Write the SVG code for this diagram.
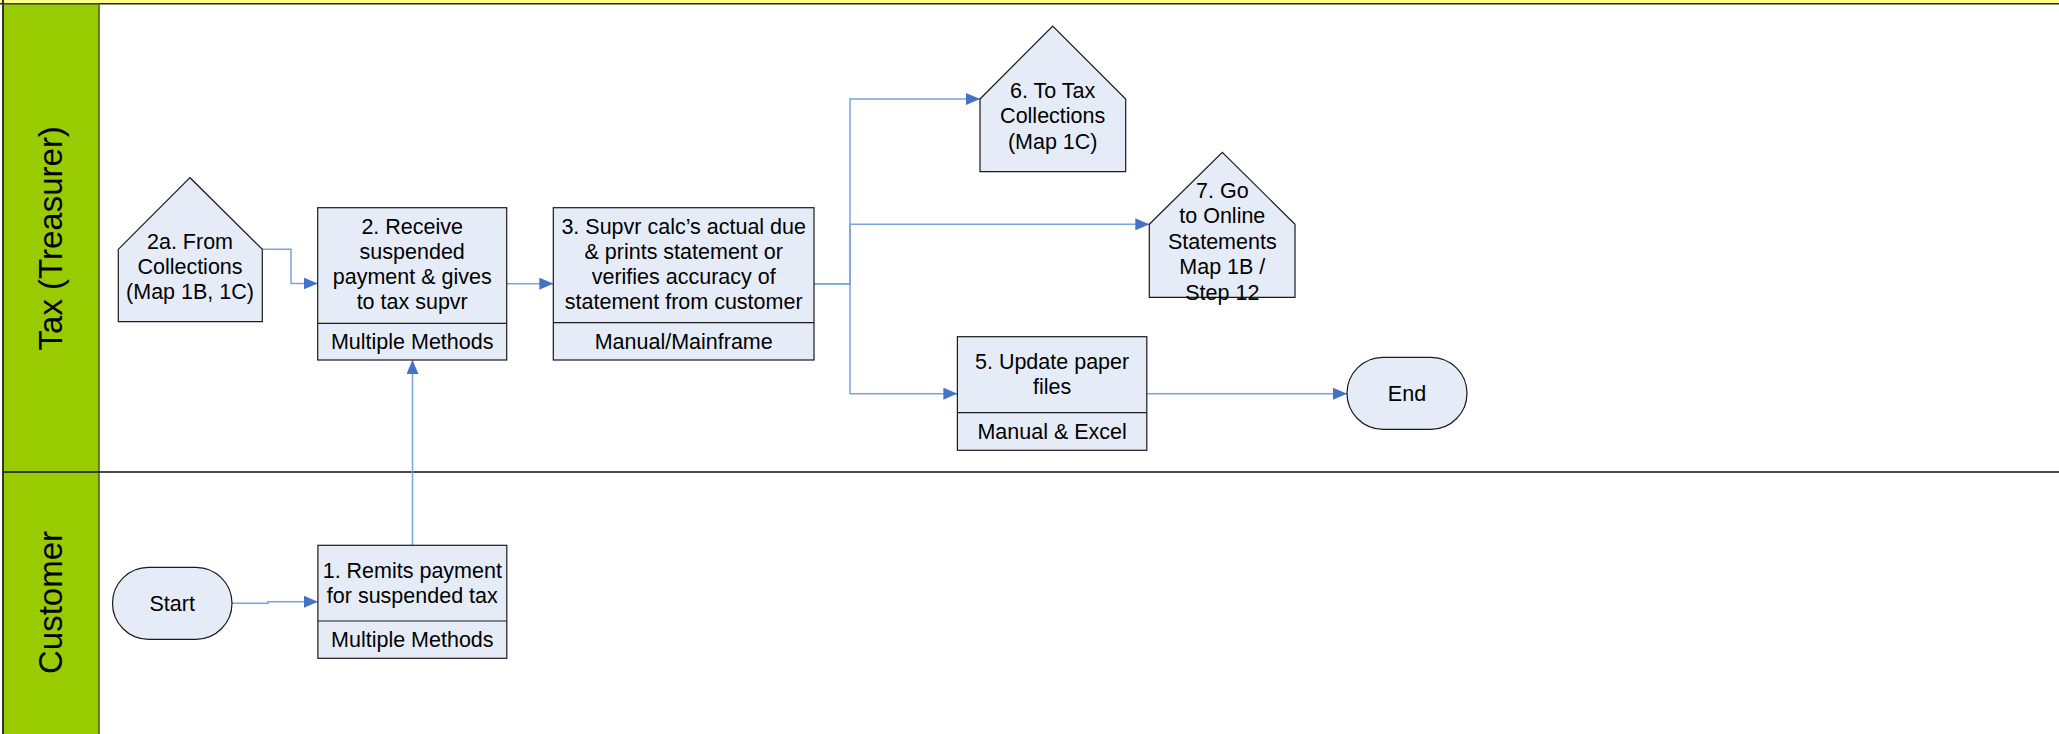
<svg xmlns="http://www.w3.org/2000/svg" width="2059" height="734" viewBox="0 0 2059 734">
<style>
.lane{fill:#99CC00;stroke:#4D5A2A;stroke-width:1.5}
.lt{font-family:"Liberation Sans",Arial,sans-serif;font-size:33px;fill:#000;text-anchor:middle}
.box{fill:#E6ECF7;stroke:#1a1a1a;stroke-width:1.2}
.t{font-family:"Liberation Sans",Arial,sans-serif;font-size:21.5px;fill:#000;text-anchor:middle}
.c{fill:none;stroke:#7BA3DC;stroke-width:1.5}
</style>
<defs>
<marker id="ah" markerUnits="userSpaceOnUse" markerWidth="14" markerHeight="12" refX="14" refY="6" orient="auto">
<path d="M0,0 L14,6 L0,12 z" fill="#4472C4"/>
</marker>
</defs>
<rect x="0" y="0" width="2059" height="734" fill="#fff"/>
<g id="lanes">
<rect x="0" y="0" width="2059" height="3.5" fill="#FFFF88"/>
<line x1="0" y1="3.8" x2="2059" y2="3.8" stroke="#222" stroke-width="1.5"/>
<rect class="lane" x="3" y="4" width="96" height="732"/>
<line x1="3" y1="472" x2="2059" y2="472" stroke="#111" stroke-width="1.5"/>
<line x1="3" y1="0" x2="3" y2="734" stroke="#333" stroke-width="2"/>
<text class="lt" transform="translate(61.5,238.3) rotate(-90)">Tax (Treasurer)</text>
<text class="lt" transform="translate(61.5,602.5) rotate(-90)">Customer</text>
</g>
<g id="connectors">
<path class="c" d="M232,603.3 H268 V601.7 H317.9" marker-end="url(#ah)"/>
<path class="c" d="M412.5,545.3 V360" marker-end="url(#ah)"/>
<path class="c" d="M262.3,249.3 H291 V283.5 H317.7" marker-end="url(#ah)"/>
<path class="c" d="M506.7,283.7 H553.3" marker-end="url(#ah)"/>
<path class="c" d="M814,283.7 H850 V99 H980" marker-end="url(#ah)"/>
<path class="c" d="M814,283.7 H850 V224.3 H1149.3" marker-end="url(#ah)"/>
<path class="c" d="M814,283.7 H850 V393.7 H957.4" marker-end="url(#ah)"/>
<path class="c" d="M1146.8,393.7 H1347" marker-end="url(#ah)"/>
</g>
<g id="n2a">
<polygon class="box" points="118.3,249.3 190,177.7 262.3,249.3 262.3,321.7 118.3,321.7"/>
<text class="t" x="190" y="248.5">2a. From</text>
<text class="t" x="190" y="273.5">Collections</text>
<text class="t" x="190" y="298.5">(Map 1B, 1C)</text>
</g>
<g id="n2">
<rect class="box" x="317.7" y="207.7" width="189" height="152.3"/>
<line class="box" x1="317.7" y1="323.3" x2="506.7" y2="323.3"/>
<text class="t" x="412.2" y="233.5">2. Receive</text>
<text class="t" x="412.2" y="258.8">suspended</text>
<text class="t" x="412.2" y="284.1">payment &amp; gives</text>
<text class="t" x="412.2" y="309.4">to tax supvr</text>
<text class="t" x="412.2" y="348.5">Multiple Methods</text>
</g>
<g id="n3">
<rect class="box" x="553.3" y="207.7" width="260.7" height="152.3"/>
<line class="box" x1="553.3" y1="322.7" x2="814" y2="322.7"/>
<text class="t" x="683.7" y="233.5">3. Supvr calc’s actual due</text>
<text class="t" x="683.7" y="258.8">&amp; prints statement or</text>
<text class="t" x="683.7" y="284.1">verifies accuracy of</text>
<text class="t" x="683.7" y="309.4">statement from customer</text>
<text class="t" x="683.7" y="348.5">Manual/Mainframe</text>
</g>
<g id="n6">
<polygon class="box" points="980,99 1052.7,26 1125.7,99 1125.7,171.7 980,171.7"/>
<text class="t" x="1052.7" y="97.5">6. To Tax</text>
<text class="t" x="1052.7" y="123">Collections</text>
<text class="t" x="1052.7" y="148.5">(Map 1C)</text>
</g>
<g id="n7">
<polygon class="box" points="1149.3,224.3 1222.3,152.3 1295,224.3 1295,297.3 1149.3,297.3"/>
<text class="t" x="1222.3" y="197.5">7. Go</text>
<text class="t" x="1222.3" y="223">to Online</text>
<text class="t" x="1222.3" y="248.5">Statements</text>
<text class="t" x="1222.3" y="274">Map 1B /</text>
<text class="t" x="1222.3" y="299.5">Step 12</text>
</g>
<g id="n5">
<rect class="box" x="957.4" y="336.7" width="189.4" height="113.6"/>
<line class="box" x1="957.4" y1="412.7" x2="1146.8" y2="412.7"/>
<text class="t" x="1052.1" y="369">5. Update paper</text>
<text class="t" x="1052.1" y="394.3">files</text>
<text class="t" x="1052.1" y="438.5">Manual &amp; Excel</text>
</g>
<g id="nEnd">
<rect class="box" x="1347" y="357.3" width="120" height="72" rx="36" ry="36"/>
<text class="t" x="1407" y="400.5">End</text>
</g>
<g id="n1">
<rect class="box" x="317.9" y="545.3" width="188.9" height="113"/>
<line class="box" x1="317.9" y1="621" x2="506.8" y2="621"/>
<text class="t" x="412.3" y="577.7">1. Remits payment</text>
<text class="t" x="412.3" y="603">for suspended tax</text>
<text class="t" x="412.3" y="646.5">Multiple Methods</text>
</g>
<g id="nStart">
<rect class="box" x="112.5" y="567.3" width="119.5" height="72" rx="36" ry="36"/>
<text class="t" x="172.2" y="610.8">Start</text>
</g>
</svg>
